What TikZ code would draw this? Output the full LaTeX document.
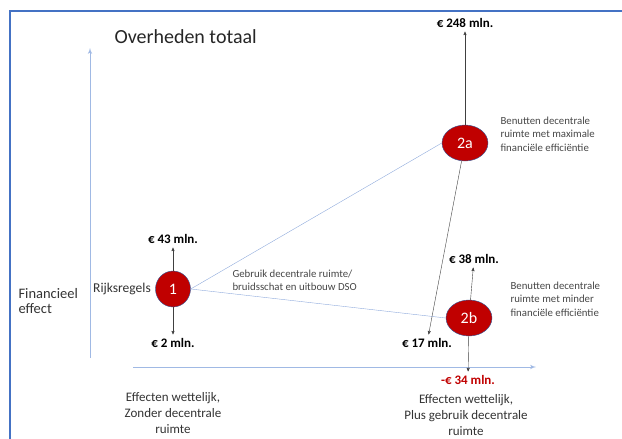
\documentclass[tikz,border=0pt]{standalone}
\usepackage{fontspec}
\setmainfont{Carlito}
\usetikzlibrary{positioning}
\usetikzlibrary{arrows}
\usetikzlibrary{shapes.geometric}
\definecolor{kader}{RGB}{68,114,196}
\definecolor{as}{RGB}{160,185,228}
\definecolor{rood}{RGB}{192,0,0}
\definecolor{rand}{RGB}{47,85,151}
\definecolor{lijn}{RGB}{143,170,220}
\definecolor{grijs}{RGB}{70,70,70}
\tikzset{punt/.style={ellipse,fill=rood,draw=rand,thin,text=white,minimum width=46pt,minimum height=36pt,inner sep=0pt,font=\fontsize{16}{18}\selectfont}}
\tikzset{bedrag/.style={font=\bfseries\fontsize{13}{14}\selectfont,inner sep=2pt,outer sep=2pt}}
\tikzset{uitleg/.style={anchor=west,align=left,text=grijs,font=\fontsize{10.8}{13.3}\selectfont}}
\tikzset{tekst/.style={align=center,text=black!80,font=\fontsize{13}{16}\selectfont}}
\tikzset{>=stealth'}

\begin{document}
\begin{tikzpicture}[x=1pt,y=-1pt]
\useasboundingbox (0,0) rectangle (622,439);

\draw[kader,line width=1.5pt] (10,439) -- (10,11) -- (622,11);

% assen
\coordinate (y0) at (90,358);
\coordinate (y1) at (90,48);
\coordinate (x0) at (133,367);
\coordinate (x1) at (536,367);
\draw[as,line width=1pt,-latex'] (y0) -- (y1);
\draw[as,line width=1pt,-latex'] (x0) -- (x1);

\node[anchor=west,font=\fontsize{20}{24}\selectfont,text=black!85] (titel) at (111,37) {Overheden totaal};
\node[tekst,anchor=west,align=left,font=\fontsize{14.5}{15}\selectfont] (fin) at (15,301) {Financieel\\effect};

\node[punt,minimum width=35pt] (een) at (173,289) {1};
\node[punt] (tweeA) at (465,143) {2a};
\node[punt] (tweeB) at (469,318) {2b};

\node[tekst,font=\fontsize{13.5}{16}\selectfont,left=1pt of een] (rijk) {Rijksregels};

\node[bedrag] (b43) at (173,239) {€ 43 mln.};
\node[bedrag] (b2) at (173,343) {€ 2 mln.};
\node[bedrag] (b248) at (465,23) {€ 248 mln.};
\node[bedrag] (b17) at (427,343) {€ 17 mln.};
\node[bedrag] (b38) at (474,259) {€ 38 mln.};
\node[bedrag,text=rood] (b34) at (468,380) {-€ 34 mln.};

\draw[lijn] (een.east) -- (tweeA.west);
\draw[lijn] (een.east) -- (tweeB.west);

\draw[->,black!75] (een) -- (b43);
\draw[->,black!75] (een) -- (b2);
\draw[->,black!75] (tweeA) -- (b248);
\draw[->,black!75] (tweeA) -- (b17);
\draw[->,black!75] (tweeB) -- (b38);
\draw[->,black!75] (tweeB) -- (b34);

\node[uitleg] (u2a) at (497,134) {Benutten decentrale\\ruimte met maximale\\financiële efficiëntie};
\node[uitleg] (u2b) at (507,299) {Benutten decentrale\\ruimte met minder\\financiële efficiëntie};
\node[uitleg] (gebruik) at (229,280) {Gebruik decentrale ruimte/\\bruidsschat en uitbouw DSO};

\node[tekst] (eff1) at (173,413) {Effecten wettelijk,\\Zonder decentrale\\ruimte};
\node[tekst] (eff2) at (466,415) {Effecten wettelijk,\\Plus gebruik decentrale\\ruimte};
\end{tikzpicture}
\end{document}
